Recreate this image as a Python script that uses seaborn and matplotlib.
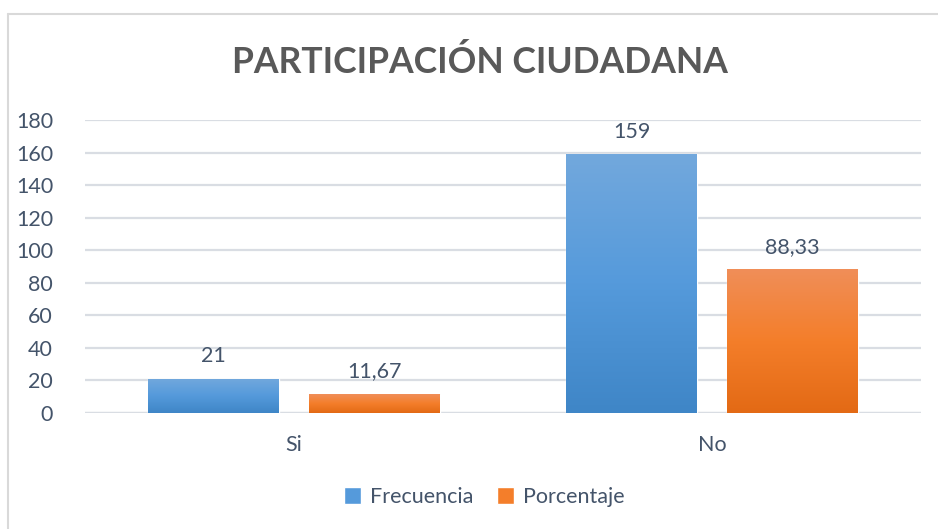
import numpy as np
import pandas as pd
import matplotlib
matplotlib.use("Agg")
import matplotlib.pyplot as plt
import matplotlib.patches as patches
import seaborn as sns
from matplotlib.colors import LinearSegmentedColormap

categories = ["Si", "No"]
series_names = ["Frecuencia", "Porcentaje"]
frecuencia = [21, 159]
porcentaje = [11.67, 88.33]
yticks = [0, 20, 40, 60, 80, 100, 120, 140, 160, 180]
title = "PARTICIPACIÓN CIUDADANA"

# gradient stops top -> bottom, like the office chart fill
blue_grad = ["#72A8DD", "#559ADB", "#3F86C7"]
orange_grad = ["#F08E58", "#F47E2A", "#E36A15"]
text_color = "#44546A"
grid_color = "#D9DDE3"
fs = 15.5

df = pd.DataFrame({
    "cat": categories * 2,
    "serie": [series_names[0]] * 2 + [series_names[1]] * 2,
    "valor": frecuencia + porcentaje,
})

sns.set_theme(style="white")
plt.rcParams["font.family"] = ["Lato", "DejaVu Sans"]

fig = plt.figure(figsize=(9.38, 5.29), dpi=100)
ax = fig.add_axes([85 / 938, 1 - 413 / 529, (921 - 85) / 938, (413 - 120) / 529])

sns.barplot(
    data=df, x="cat", y="valor", hue="serie", order=categories,
    hue_order=series_names, palette=[blue_grad[1], orange_grad[1]],
    width=0.77, gap=0.187, ax=ax, legend=False, saturation=1,
)

ax.set_ylim(0, 180)
ax.set_yticks(yticks)
ax.set_xlim(-0.5, 1.5)
ax.yaxis.grid(True, color=grid_color, linewidth=1.6)
ax.set_axisbelow(True)
for s in ax.spines.values():
    s.set_visible(False)
ax.set_xlabel("")
ax.set_ylabel("")
ax.tick_params(axis="y", length=0, pad=23, labelsize=fs, labelcolor=text_color)
ax.tick_params(axis="x", length=0, pad=16, labelsize=fs, labelcolor=text_color)

# gradient fill clipped to each bar
for cont, grad in zip(ax.containers, [blue_grad, orange_grad]):
    cmap = LinearSegmentedColormap.from_list("g", grad)
    for bar in cont:
        x0, y0 = bar.get_x(), bar.get_y()
        w, h = bar.get_width(), bar.get_height()
        img = ax.imshow(np.linspace(0, 1, 100).reshape(-1, 1), cmap=cmap,
                        extent=[x0, x0 + w, y0, y0 + h], aspect="auto",
                        origin="upper", zorder=bar.get_zorder() + 0.1)
        img.set_clip_path(bar)
    labels = [f"{v:g}".replace(".", ",") for v in cont.datavalues]
    ax.bar_label(cont, labels=labels, padding=9, fontsize=fs, color=text_color)
ax.set_xlim(-0.5, 1.5)
ax.set_ylim(0, 180)

ax.axhline(0, color=grid_color, linewidth=1.6, zorder=0.5)

fig.text(480 / 938, 1 - 62 / 529, title, ha="center", va="center",
         fontsize=25.6, fontweight="bold", color="#595959")

handles = [patches.Patch(facecolor=blue_grad[1]), patches.Patch(facecolor=orange_grad[1])]
fig.legend(handles, series_names, loc="center", bbox_to_anchor=(484 / 938, 1 - 497 / 529),
           ncol=2, frameon=False, fontsize=fs, labelcolor=text_color,
           handlelength=0.8, handleheight=0.8, handletextpad=0.4, columnspacing=1.1)

# chart frame (top and left edges visible in the reference)
fig.add_artist(plt.Line2D([8 / 938, 1], [1 - 14 / 529] * 2, color="#D9D9D9", linewidth=1.5))
fig.add_artist(plt.Line2D([8 / 938] * 2, [0, 1 - 14 / 529], color="#D9D9D9", linewidth=1.5))

fig.savefig("out.png", dpi=100, facecolor="white")
